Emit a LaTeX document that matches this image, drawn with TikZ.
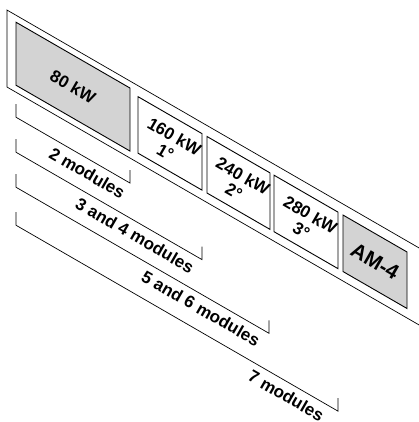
\documentclass[tikz,border=0pt]{standalone}
\usepackage{fontspec}
\setmainfont{Liberation Sans}
\usetikzlibrary{positioning,calc}
\definecolor{modgray}{RGB}{211,211,211}

\begin{document}
\begin{tikzpicture}[
    x={(1pt,-0.57735pt)}, y={(0pt,-1pt)},
    frame/.style={draw=black, line width=0.7pt},
    module/.style={draw=black, line width=0.9pt, fill=white},
    basemod/.style={module, fill=modgray},
    span/.style={draw=black, line width=0.7pt},
    modtext/.style={font=\fontsize{17}{18}\selectfont\bfseries, rotate=-30, align=center, inner sep=0pt},
    amtext/.style={modtext, font=\fontsize{21}{22}\selectfont\bfseries},
    spantext/.style={modtext, anchor=north east}
]
\useasboundingbox (0pt,0pt) rectangle (418pt,-422pt);

% rack frame
\draw[frame] (425,6) -- (7,6) -- (7,83) -- (425,83);

% modules
\draw[basemod] (16,13) -- (130,13) -- (130,76) -- (16,76) -- cycle;
\node[modtext] (base) at (73,44.5) {80 kW};
\foreach \xa/\xb/\txt/\name in {138/202/{160 kW\\1°}/m1, 207/270/{240 kW\\2°}/m2, 274/338/{280 kW\\3°}/m3}{
    \draw[module] (\xa,17) -- (\xb,17) -- (\xb,73.5) -- (\xa,73.5) -- cycle;
    \node[modtext] (\name) at ({(\xa+\xb)/2},46) {\txt};
}
\draw[basemod] (343,17) -- (407,17) -- (407,73.5) -- (343,73.5) -- cycle;
\node[amtext] (am) at (375,45) {AM-4};

% spans
\foreach \yb/\xr/\dx/\txt/\name in {108/130/3/2 modules/s2, 143/202/6/3 and 4 modules/s4, 178/269/7/5 and 6 modules/s6, 216/338/12/7 modules/s7}{
    \draw[span] (16,\yb-13) -- (16,\yb) -- (\xr,\yb) -- (\xr,\yb-13);
    \node[spantext] (\name) at (\xr-\dx,\yb+7) {\txt};
}
\end{tikzpicture}
\end{document}
